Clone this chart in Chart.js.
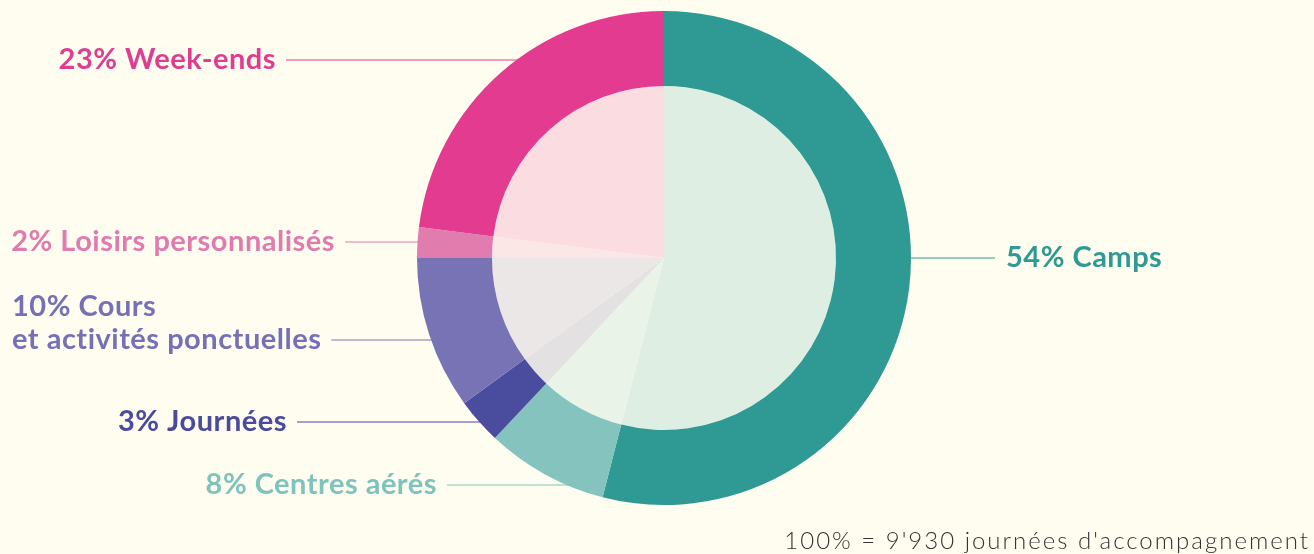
<!DOCTYPE html>
<html>
<head>
<meta charset="utf-8">
<script src="https://cdn.jsdelivr.net/npm/chart.js@4/dist/chart.umd.min.js"></script>
<style>
  html, body { margin: 0; padding: 0; background: #fffdf0; }
  #wrap { width: 1314px; height: 554px; position: relative; }
</style>
</head>
<body>
<div id="wrap"><canvas id="myChart"></canvas></div>
<script>
// categories, clockwise from the top
const categories = [
  ['Camps'],
  ['Centres aérés'],
  ['Journées'],
  ['Cours', 'et activités ponctuelles'],
  ['Loisirs personnalisés'],
  ['Week-ends'],
];
const shares = [54, 8, 3, 10, 2, 23];
const footnote = "100% = 9'930 journées d'accompagnement";

const strongColors = ['#2e9a93', '#85c4be', '#4a4c9e', '#7873b5', '#e07dae', '#e23b8f'];
const paleColors   = ['#dfeee3', '#eaf3e7', '#e4e1e3', '#ebe7e6', '#fbe8e6', '#fbdde1'];
const textColors   = ['#2e9a93', '#7fc3bd', '#4a4b9e', '#7670b6', '#df7bae', '#e03d91'];

// where each label sits: leader line y, text side, text edge x
const labelSpots = [
  { y: 258, side: 'right', x: 1006 },
  { y: 485, side: 'left', x: 437 },
  { y: 422, side: 'left', x: 287 },
  { y: 340, side: 'left', x: 12 },
  { y: 242, side: 'left', x: 335 },
  { y: 60,  side: 'left', x: 276 },
];

const labelFont = 'bold 29px Lato';

// text of each label, one entry per line
function labelLines(i) {
  const lines = categories[i].slice();
  lines[0] = shares[i] + '% ' + lines[0];
  return lines;
}

const labelPlugin = {
  id: 'labels',
  beforeDatasetsDraw(chart) {
    const ctx = chart.ctx;
    const arc = chart.getDatasetMeta(0).data[0];
    const cx = arc.x, cy = arc.y, R = arc.outerRadius;
    ctx.save();
    ctx.font = labelFont;
    ctx.letterSpacing = '0.5px';
    ctx.lineWidth = 1.2;
    labelSpots.forEach((s, i) => {
      const dy = s.y - cy;
      const dx = Math.sqrt(Math.max(R * R - dy * dy, 0));
      const lines = labelLines(i);
      ctx.strokeStyle = textColors[i];
      ctx.beginPath();
      if (s.side == 'right') {
        ctx.moveTo(cx + dx - 4, s.y);
        ctx.lineTo(s.x - 11, s.y);
      } else {
        let end = s.x;
        if (lines.length > 1) end = s.x + ctx.measureText(lines[lines.length - 1]).width;
        ctx.moveTo(cx - dx + 4, s.y);
        ctx.lineTo(end + 10, s.y);
      }
      ctx.stroke();
    });
    ctx.restore();
  },
  afterDatasetsDraw(chart) {
    const ctx = chart.ctx;
    ctx.save();
    ctx.font = labelFont;
    ctx.letterSpacing = '0.5px';
    ctx.textBaseline = 'middle';
    labelSpots.forEach((s, i) => {
      ctx.fillStyle = textColors[i];
      const lines = labelLines(i);
      const n = lines.length;
      lines.forEach((t, k) => {
        // last line lines up with the leader line
        const y = s.y - (n - 1 - k) * 33;
        if (n > 1 || s.side == 'right') ctx.textAlign = 'left';
        else ctx.textAlign = 'right';
        ctx.fillText(t, s.x, y);
      });
    });
    ctx.font = '300 24px Lato';
    ctx.fillStyle = '#333333';
    ctx.textAlign = 'right';
    ctx.textBaseline = 'alphabetic';
    ctx.letterSpacing = '2px';
    ctx.fillText(footnote, 1310, 549);
    ctx.restore();
  }
};

const data = {
  labels: categories.map(c => c.join(' ')),
  datasets: [
    {
      data: shares,
      backgroundColor: strongColors,
      borderWidth: 0,
      weight: 75,
    },
    {
      data: shares,
      backgroundColor: paleColors,
      borderWidth: 0,
      weight: 172,
    }
  ]
};

const config = {
  type: 'doughnut',
  data: data,
  options: {
    responsive: true,
    maintainAspectRatio: false,
    animation: false,
    events: [],
    cutout: 0,
    layout: { padding: { left: 14, right: 0, top: 11, bottom: 49 } },
    plugins: {
      legend: { display: false },
      tooltip: { enabled: false }
    }
  },
  plugins: [labelPlugin]
};

const myChart = new Chart(document.getElementById('myChart'), config);
</script>
</body>
</html>
